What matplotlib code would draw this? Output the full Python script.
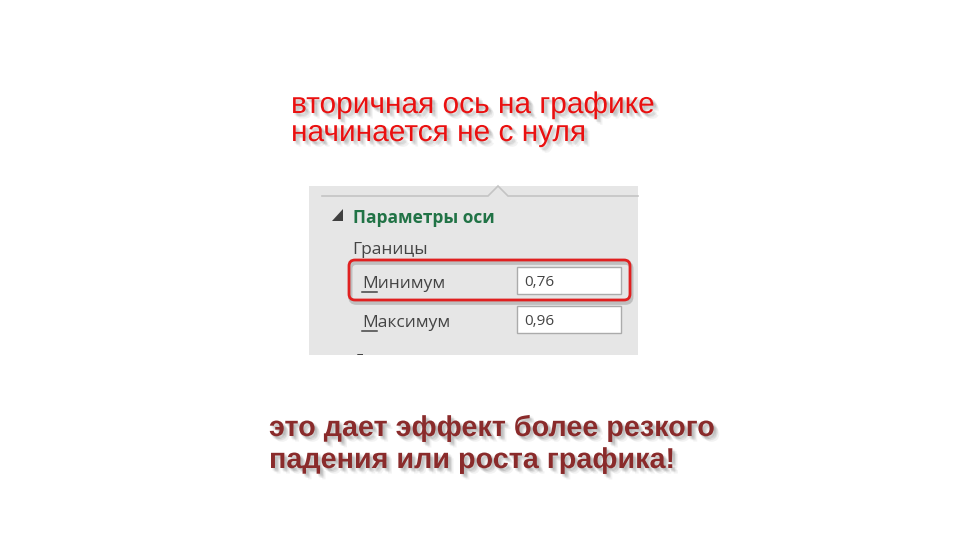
import matplotlib
matplotlib.use("Agg")
import matplotlib.pyplot as plt
import matplotlib.patheffects as pe
from matplotlib.patches import Rectangle, FancyBboxPatch, Polygon

# ── content ────────────────────────────────────────────────────────────────────
top_lines    = ["вторичная ось на графике", "начинается не с нуля"]
bottom_lines = ["это дает эффект более резкого", "падения или роста графика!"]
panel_title  = "Параметры оси"
group_label  = "Границы"
field_labels = ["Минимум", "Максимум"]
field_values = ["0,76", "0,96"]
next_label   = "Д"

RED      = "#ea1010"
DARK_RED = "#8a2b2b"
GREEN    = "#217346"
GREY_TXT = "#444444"
PANEL    = "#e6e6e6"

fig = plt.figure(figsize=(9.7, 5.47), dpi=100)
ax = fig.add_axes([0, 0, 1, 1])
ax.set_xlim(0, 970)
ax.set_ylim(547, 0)
ax.axis("off")

# soft shadow: a few faint offset copies stacked up
soft = [(1, -1), (2, -2), (3, -3), (2, -3), (3, -2), (4, -4), (1, -2), (2, -1)]
shadow = [pe.SimplePatchShadow(offset=o, shadow_rgbFace="#606060", alpha=0.07)
          for o in soft] + [pe.Normal()]

# ── top caption ────────────────────────────────────────────────────────────────
for i, line in enumerate(top_lines):
    ax.text(291, 113 + i * 28, line, color=RED, fontsize=21.5,
            family="Liberation Sans", va="baseline", ha="left",
            path_effects=shadow)

# ── panel (Excel axis options) ────────────────────────────────────────────────
px0, py0, px1, py1 = 309, 186, 638, 355
panel = Rectangle((px0, py0), px1 - px0, py1 - py0, facecolor=PANEL,
                  edgecolor="none", zorder=1)
ax.add_patch(panel)

# separator line with caret
ax.plot([322, 488, 498, 508, px1], [196, 196, 186, 196, 196],
        color="#c4c4c4", lw=1.2, zorder=2, solid_joinstyle="miter")

# collapse glyph
ax.add_patch(Polygon([(343, 209), (343, 221), (332, 221)], closed=True,
                     facecolor="#404040", edgecolor="none", zorder=2))

ui_font = "Open Sans"
ax.text(353, 223, panel_title, color=GREEN, fontsize=12.5, weight="bold",
        family=ui_font, va="baseline", zorder=3)
ax.text(352, 254, group_label, color=GREY_TXT, fontsize=12.5,
        family=ui_font, va="baseline", zorder=3)

rows_y = [288, 327]
box_top = [267, 306]
for lab, val, yb, bt in zip(field_labels, field_values, rows_y, box_top):
    ax.text(362, yb, lab, color=GREY_TXT, fontsize=12.5, family=ui_font,
            va="baseline", zorder=3)
    ax.plot([362, 377], [yb + 4, yb + 4], color=GREY_TXT, lw=1.1, zorder=3)
    ax.add_patch(Rectangle((517, bt), 104, 27, facecolor="white",
                           edgecolor="#ababab", lw=1, zorder=2))
    ax.text(524, bt + 19, val, color=GREY_TXT, fontsize=11, family=ui_font,
            va="baseline", zorder=3)

# partially hidden next label, covered below the panel edge
ax.text(353, py1 + 10, next_label, color=GREY_TXT, fontsize=12.5,
        family=ui_font, va="baseline", zorder=3)
ax.add_patch(Rectangle((340, py1), 40, 20, facecolor="white",
                       edgecolor="none", zorder=3.5))

# red highlight around "Минимум"
hl = FancyBboxPatch((349, 260), 281, 40,
                    boxstyle="round,pad=0,rounding_size=6",
                    facecolor="none", edgecolor="#e02020", lw=2, zorder=4,
                    path_effects=[pe.SimpleLineShadow(offset=(1, -2),
                                                      shadow_color="#777777",
                                                      alpha=0.35, linewidth=3),
                                  pe.Normal()])
ax.add_patch(hl)

# ── bottom caption ─────────────────────────────────────────────────────────────
for i, line in enumerate(bottom_lines):
    ax.text(269, 436 + i * 32, line, color=DARK_RED, fontsize=20.7,
            weight="bold", family="Liberation Sans", va="baseline", ha="left",
            path_effects=shadow)

fig.savefig("out.png", dpi=100, facecolor="white")
